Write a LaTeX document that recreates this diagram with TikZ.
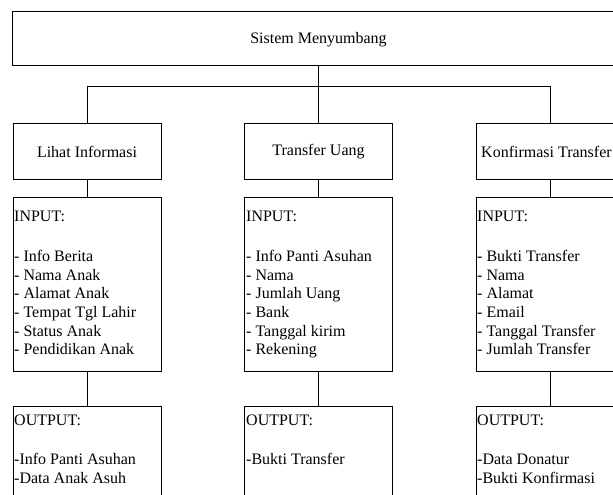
\documentclass[tikz,border=0pt]{standalone}
\usepackage{fontspec}
\setmainfont{Liberation Serif}
\begin{document}
\begin{tikzpicture}[x=1pt,y=-1pt,
  box/.style={draw=black,line width=1pt,rectangle,inner sep=0pt},
  lbl/.style={font=\fontsize{16}{18.7}\selectfont,inner sep=0pt},
  list/.style={font=\fontsize{16}{18.7}\selectfont,inner sep=0pt,align=left,anchor=north west},
  link/.style={draw=black,line width=1pt}]
\useasboundingbox (0,0) rectangle (613,495);
\clip (0,0) rectangle (613,495);
\fill[white] (0,0) rectangle (613,495);
% top
\node[box,minimum width=613pt,minimum height=54pt] (top) at (318.5,39) {};
\node[lbl] (toptxt) at (318.5,40) {Sistem Menyumbang};
% middle row
\node[box,minimum width=148pt,minimum height=56pt] (lihat) at (87,151) {};
\node[box,minimum width=148pt,minimum height=56pt] (transfer) at (318.5,151) {};
\node[box,minimum width=148pt,minimum height=56pt] (konf) at (550,151) {};
\node[lbl] (lihattxt) at (87,152) {Lihat Informasi};
\node[lbl] (transfertxt) at (318.5,152) {Transfer Uang};
\node[lbl,anchor=west] (konftxt) at (481,152) {Konfirmasi Transfer};
% input row
\node[box,minimum width=148pt,minimum height=174pt] (in1) at (87,284) {};
\node[box,minimum width=148pt,minimum height=174pt] (in2) at (318.5,284) {};
\node[box,minimum width=148pt,minimum height=174pt] (in3) at (550,284) {};
\node[list] (in1txt) at (14,211) {INPUT:\\[21pt]- Info Berita\\- Nama Anak\\- Alamat Anak\\- Tempat Tgl Lahir\\- Status Anak\\- Pendidikan Anak};
\node[list] (in2txt) at (246,211) {INPUT:\\[21pt]- Info Panti Asuhan\\- Nama\\- Jumlah Uang\\- Bank\\- Tanggal kirim\\- Rekening};
\node[list] (in3txt) at (477,211) {INPUT:\\[21pt]- Bukti Transfer\\- Nama\\- Alamat\\- Email\\- Tanggal Transfer\\- Jumlah Transfer};
% output row
\node[box,minimum width=148pt,minimum height=120pt] (out1) at (87,466) {};
\node[box,minimum width=148pt,minimum height=120pt] (out2) at (318.5,466) {};
\node[box,minimum width=148pt,minimum height=120pt] (out3) at (550,466) {};
\node[list] (out1txt) at (14,415) {OUTPUT:\\[20pt]-Info Panti Asuhan\\-Data Anak Asuh};
\node[list] (out2txt) at (246,415) {OUTPUT:\\[20pt]-Bukti Transfer};
\node[list] (out3txt) at (477,415) {OUTPUT:\\[20pt]-Data Donatur\\-Bukti Konfirmasi};
% connectors
\coordinate (busL) at (87,86);
\coordinate (busR) at (550,86);
\draw[link] (busL) -- (busR);
\draw[link] (top.south) -- (transfer.north);
\draw[link] (busL) -- (lihat.north);
\draw[link] (busR) -- (konf.north);
\draw[link] (lihat.south) -- (in1.north);
\draw[link] (transfer.south) -- (in2.north);
\draw[link] (konf.south) -- (in3.north);
\draw[link] (in1.south) -- (out1.north);
\draw[link] (in2.south) -- (out2.north);
\draw[link] (in3.south) -- (out3.north);
\end{tikzpicture}
\end{document}
